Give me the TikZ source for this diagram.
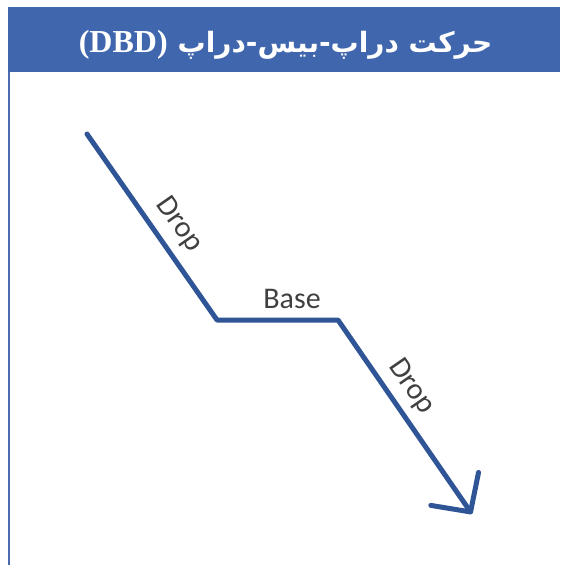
\documentclass[tikz,border=0pt]{standalone}
\usepackage{fontspec}
\setmainfont{Carlito}
\newfontfamily\arabicfont[Script=Arabic]{DejaVu Sans}
\newfontfamily\latinserif{Liberation Serif}
\TeXXeTstate=1
\usetikzlibrary{arrows.meta}
\definecolor{hdr}{HTML}{4066AE}
\definecolor{linec}{HTML}{2F5597}
\definecolor{bordc}{HTML}{4A6BB0}
\definecolor{txt}{HTML}{404040}
\tikzset{
  headerbox/.style={fill=hdr, draw=none, minimum width=552.5pt, minimum height=65pt, inner sep=0pt, anchor=north west},
  titletext/.style={text=white, inner sep=0pt, anchor=base},
  borderline/.style={draw=bordc, line width=2pt},
  flow/.style={draw=linec, line width=5pt, line join=round, line cap=round,
    -{Straight Barb[length=28pt, width=58pt, line cap=round, line join=round]}},
  lbl/.style={text=txt, font=\fontsize{30}{34}\selectfont, inner sep=2pt}
}
\begin{document}
\begin{tikzpicture}[x=1pt, y=-1pt]
\useasboundingbox (0,0) rectangle (560,565);
\node[headerbox] (header) at (7.5,7) {};
\node[titletext] (title) at (285.5,52) {{\latinserif\bfseries\fontsize{32}{36}\selectfont (DBD)}\hspace{10pt}{\arabicfont\bfseries\fontsize{28}{32}\selectfont\beginR حرکت دراپ-بیس-دراپ\endR}};
\coordinate (btop) at (9,72);
\coordinate (bbot) at (9,565);
\draw[borderline] (btop) -- (bbot);
\coordinate (a) at (87,134);
\coordinate (b) at (217,320);
\coordinate (c) at (338,320);
\coordinate (d) at (472,514);
\draw[flow] (a) -- node[lbl, sloped, above=7pt, pos=0.56] (l1) {Drop} (b)
  -- node[lbl, above=7pt, pos=0.62] (l2) {Base} (c)
  -- node[lbl, sloped, above=6pt, pos=0.41] (l3) {Drop} (d);
\end{tikzpicture}
\end{document}
